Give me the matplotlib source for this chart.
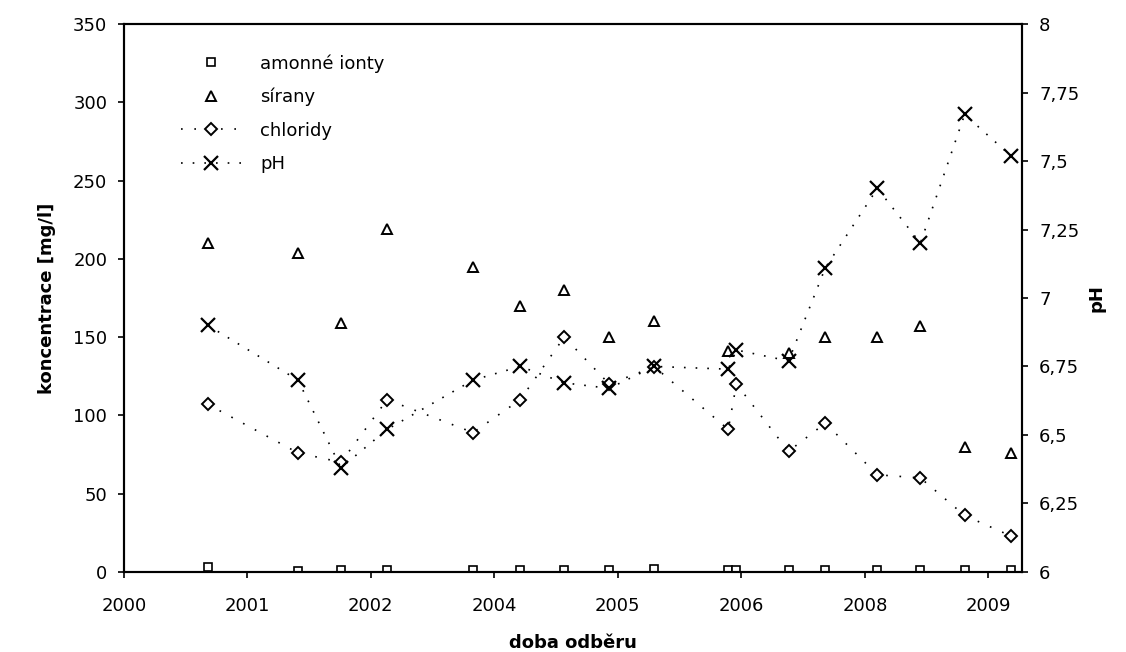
import numpy as np
import matplotlib
matplotlib.use("Agg")
import matplotlib.pyplot as plt

# dny od 1.1.2000 (osa x), odhad z obrazku
dny = [340, 705, 879, 1066, 1414, 1605, 1783, 1965, 2148, 2447, 2480,
       2691, 2840, 3051, 3225, 3404, 3590]

amonne = [3, 0.5, 1, 1, 1, 1, 1, 1, 2, 1, 1, 1, 1, 1, 1, 1, 1]
sirany = [210, 204, 159, 219, 195, 170, 180, 150, 160, 141, np.nan,
          140, 150, 150, 157, 80, 76]
chloridy = [107, 76, 70, 110, 89, 110, 150, 120, 131, 91, 120,
            77, 95, 62, 60, 36, 23]
ph = [6.90, 6.70, 6.38, 6.52, 6.70, 6.75, 6.69, 6.67, 6.75, 6.74, 6.81,
      6.77, 7.11, 7.40, 7.20, 7.67, 7.52]

x_ticks = [0, 500, 1000, 1500, 2000, 2500, 3000, 3500]
x_labels = ["2000", "2001", "2002", "2004", "2005", "2006", "2008", "2009"]
y_ticks = [0, 50, 100, 150, 200, 250, 300, 350]
ph_ticks = [6, 6.25, 6.5, 6.75, 7, 7.25, 7.5, 7.75, 8]
ph_labels = ["6", "6,25", "6,5", "6,75", "7", "7,25", "7,5", "7,75", "8"]

fig = plt.figure(figsize=(11.26, 6.52), dpi=100)
ax = fig.add_axes([0.110, 0.123, 0.798, 0.840])
ax2 = ax.twinx()

fs = 13
h1, = ax.plot(dny, amonne, linestyle="none", marker="s", ms=6, mfc="white",
              mec="black", mew=1.2, label="amonné ionty")
h2, = ax.plot(dny, sirany, linestyle="none", marker="^", ms=7, mfc="white",
              mec="black", mew=1.4, label="sírany")
h3, = ax.plot(dny, chloridy, linestyle=(0, (1, 7)), color="black", lw=1.2,
              marker="D", ms=6, mfc="white", mec="black", mew=1.4,
              label="chloridy")
h4, = ax2.plot(dny, ph, linestyle=(0, (1, 6)), color="black", lw=1.2,
               marker="x", ms=10, mec="black", mew=1.6, label="pH")

ax.set_xlim(0, 3638)
ax.set_ylim(0, 350)
ax2.set_ylim(6, 8)
ax.set_xticks(x_ticks)
ax.set_xticklabels(x_labels)
ax.set_yticks(y_ticks)
ax2.set_yticks(ph_ticks)
ax2.set_yticklabels(ph_labels)

for a in (ax, ax2):
    a.tick_params(labelsize=fs, length=4, width=1.2, direction="out", pad=8)
    for s in a.spines.values():
        s.set_linewidth(1.5)
ax.tick_params(axis="x", pad=14)

ax.set_xlabel("doba odběru", fontsize=fs, fontweight="bold", labelpad=14)
ax.set_ylabel("koncentrace [mg/l]", fontsize=fs, fontweight="bold", labelpad=12)
ax2.set_ylabel("pH", fontsize=fs, fontweight="bold", labelpad=6)

leg = ax2.legend(handles=[h1, h2, h3, h4], loc="upper left",
                 bbox_to_anchor=(0.045, 0.975), frameon=False, fontsize=fs,
                 handlelength=3.4, labelspacing=0.85, handletextpad=1.0)

fig.savefig("out.png", dpi=100)
